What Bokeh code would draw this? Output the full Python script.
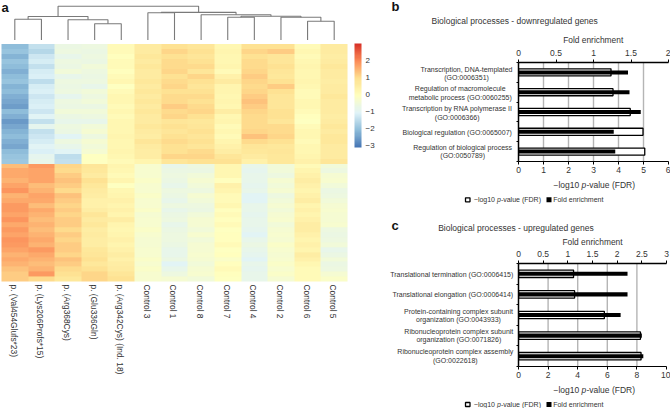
import numpy as np
from bokeh.plotting import figure
from bokeh.layouts import column, row
from bokeh.models import (Range1d, LinearColorMapper, ColorBar, FixedTicker, LinearAxis,
                          Span, AllLabels)
from bokeh.embed import file_html
from bokeh.resources import INLINE

FONT = "Liberation Sans"
TXT = "#333333"

samples = ["p. (Val454Glufs*23)", "p. (Lys206Profs*15)", "p. (Arg368Cys)", "p. (Glu336Gln)",
           "p. (Arg342Cys) (Ind. 18)", "Control 3", "Control 1", "Control 8", "Control 7",
           "Control 4", "Control 2", "Control 6", "Control 5"]

top_rows = [
 [-2.1,-2.0,-2.2,-2.0,-2.1,-2.3,-2.1,-2.0,-2.2,-2.1,-2.3,-2.4,-2.5,-2.1,-2.3,-2.6,-2.4,-2.2,-2.1,-2.3,-2.4,-2.1,-2.0,-1.9],
 [-1.4,-1.6,-1.3,-1.2,-1.4,-1.2,-1.1,-1.5,-1.2,-1.1,-1.3,-1.2,-1.1,-1.3,-1.0,-1.4,-0.9,-1.4,-1.3,-1.2,-1.0,-1.1,-0.9,-0.8],
 [-0.7,-0.6,-0.8,-0.6,-0.7,-0.5,-0.8,-0.6,-0.7,-0.6,-0.9,-0.6,-0.7,-0.5,-0.7,-0.8,-0.6,-0.7,-1.0,-0.6,-0.8,-1.0,-1.5,-1.4],
 [-0.6,-0.7,-0.6,-0.7,-0.5,-0.6,-0.7,-0.6,-0.8,-0.5,-0.6,-0.5,-0.7,-0.5,-0.6,-0.8,-0.5,-0.4,-0.6,-0.4,-0.5,-0.4,-0.1,-0.1],
 [0.1,0.1,0.0,0.1,0.1,0.0,0.1,0.2,-0.1,0.1,0.2,0.2,0.1,0.2,0.1,0.2,0.2,0.2,0.3,0.2,0.2,0.3,0.2,0.1],
 [0.6,0.6,0.7,0.6,0.7,0.6,0.6,0.7,0.6,0.7,0.6,0.7,0.6,0.7,0.6,0.6,0.7,0.6,0.5,0.8,0.6,0.5,0.5,0.3],
 [0.9,1.1,0.9,1.0,1.0,1.1,0.9,1.0,1.1,0.9,1.0,1.0,1.2,1.0,1.1,0.8,0.9,0.8,0.9,1.0,0.9,0.9,1.1,0.8],
 [0.8,0.9,0.8,0.9,1.0,0.8,1.1,0.9,0.8,0.9,1.0,0.9,1.0,1.1,0.9,0.7,0.8,0.9,0.8,0.9,0.8,1.0,1.1,0.9],
 [0.2,0.3,0.2,0.2,0.3,0.1,0.4,0.6,0.3,0.3,0.2,0.3,0.2,0.5,0.2,0.3,0.1,0.2,0.1,0.3,0.4,0.5,0.8,0.9],
 [0.9,1.1,0.9,1.0,1.0,1.1,1.2,1.1,1.0,1.1,1.2,1.3,1.2,1.1,1.0,1.0,1.0,1.1,1.3,1.0,0.8,0.7,0.6,0.4],
 [0.9,1.2,0.8,0.8,0.9,0.8,0.7,0.9,1.2,0.9,0.8,0.8,0.8,0.9,0.9,0.8,1.0,1.0,1.1,0.9,0.7,0.8,0.7,0.7],
 [0.1,0.2,0.1,0.2,0.3,0.2,0.2,0.3,0.2,0.1,0.1,0.2,0.2,0.1,0.0,-0.1,0.1,0.2,0.2,0.1,0.2,0.2,0.3,0.4],
 [0.6,0.6,0.5,0.6,0.7,0.6,0.6,0.5,0.6,0.6,0.7,0.6,0.6,0.6,0.5,0.6,0.7,0.6,0.7,0.7,0.6,0.6,0.6,0.8],
]

bot_rows = [
 [1.4,1.6,1.6,1.5,1.7,1.9,1.5,1.6,1.8,1.8,1.7,1.9,1.6,1.8,1.7,1.9,1.8,1.7,1.5,1.6,1.5,1.3,1.2,1.2],
 [1.8,1.7,1.7,1.7,1.4,1.5,1.7,1.6,1.4,1.6,1.5,1.4,1.5,1.4,1.5,1.6,1.5,1.8,1.6,1.5,1.4,1.5,1.8,1.0],
 [1.1,1.0,1.2,1.3,1.2,1.0,1.3,1.2,1.1,1.2,1.1,1.2,1.2,1.0,1.2,1.1,1.2,1.2,1.1,1.3,1.2,1.0,0.9,0.7],
 [0.8,0.7,0.6,0.9,0.7,0.6,0.5,0.4,0.4,0.5,0.8,0.6,0.7,0.5,0.6,0.5,0.5,0.7,0.8,0.9,0.7,0.9,1.1,1.1],
 [0.3,0.2,0.1,0.3,-0.1,0.2,0.3,0.4,0.3,0.4,0.3,0.5,0.3,0.2,0.3,0.4,0.3,0.4,0.5,0.4,0.5,0.6,0.8,0.9],
 [-0.3,-0.3,-0.3,-0.2,-0.3,-0.3,-0.2,-0.3,-0.3,-0.2,-0.4,-0.3,-0.3,-0.2,-0.3,-0.4,-0.4,-0.3,-0.3,-0.2,-0.3,-0.2,-0.3,-0.3],
 [-0.8,-0.7,-0.6,-0.7,-0.8,-0.6,-0.7,-0.8,-0.6,-0.8,-0.7,-0.6,-0.8,-0.7,-0.6,-0.6,-0.7,-0.8,-0.8,-0.7,-1.0,-0.8,-0.6,-0.4],
 [-0.6,-0.7,-0.5,-0.4,-0.5,-0.6,-0.4,-0.5,-0.6,-0.7,-0.5,-0.4,-0.4,-0.5,-0.3,-0.5,-0.4,-0.4,-0.3,-0.4,-0.5,-0.4,-0.3,-0.5],
 [0.2,0.2,0.2,0.0,0.4,0.3,0.1,0.1,0.2,0.0,0.1,0.0,0.1,-0.1,0.0,0.0,0.1,-0.1,0.0,-0.2,0.0,0.1,0.0,-0.1],
 [-0.8,-0.9,-0.8,-0.8,-0.9,-0.8,-1.0,-1.0,-0.8,-0.8,-0.9,-0.8,-0.8,-0.9,-1.0,-0.8,-0.7,-0.8,-0.9,-1.0,-0.8,-0.9,-0.8,-0.8],
 [-0.5,-0.5,-0.6,-0.4,-0.5,-0.4,-0.6,-0.5,-0.4,-0.5,-0.4,-0.3,-0.5,-0.4,-0.3,-0.4,-0.2,-0.3,-0.4,-0.3,-0.2,-0.3,-0.2,-0.4],
 [0.1,0.3,0.4,0.5,0.4,0.3,0.4,0.5,0.3,0.4,0.3,0.4,0.5,0.5,0.4,0.3,0.4,0.3,0.5,0.4,0.2,0.1,0.1,0.1],
 [-0.5,-0.6,-0.4,-0.3,-0.5,-0.7,-0.6,-0.5,-0.4,-0.3,-0.4,-0.4,-0.3,-0.6,-0.7,-0.6,-0.5,-0.8,-0.7,-0.5,-0.7,-0.6,-0.4,-0.2],
]

# colour bar ticks
bar_ticks = [2, 1, 0, -1, -2, -3]
low_value, high_value = -3.1, 3.0
anchor_colors = ["#4575B4", "#91BFDB", "#E0F3F8", "#FFFFBF", "#FEE090", "#FC8D59", "#D73027"]

# dendrogram: leaves are 1..13; merges given as (left, right, height)
merges = [
 (1, 2, 20.8), (4, 5, 16.2), (3, "b", 20.2), ("a", "c", 23.5),
 (6, 7, 27.2), (9, 10, 22.8), (12, 13, 18.8), (11, "g", 22.8), ("f", "h", 23.8),
 (8, "i", 25.2), ("e", "j", 27.6), ("d", "k", 33.8),
]
merge_names = "abcdefghijkl"

# panel b
b_terms = ["Transcription, DNA-templated\n(GO:0006351)",
           "Regulation of macromolecule\nmetabolic process (GO:0060255)",
           "Transcription by RNA polymerase II\n(GO:0006366)",
           "Biological regulation (GO:0065007)",
           "Regulation of biological process\n(GO:0050789)"]
b_fdr = [3.7, 3.78, 4.47, 4.98, 5.05]
b_fold = [1.46, 1.48, 1.63, 1.27, 1.29]
b_bottom_ticks = [0, 1, 2, 3, 4, 5, 6]
b_top_ticks = [0, 0.5, 1, 1.5, 2]

# panel c
c_terms = ["Translational termination (GO:0006415)",
           "Translational elongation (GO:0006414)",
           "Protein-containing complex subunit\norganization (GO:0043933)",
           "Ribonucleoprotein complex subunit\norganization (GO:0071826)",
           "Ribonucleoprotein complex assembly\n(GO:0022618)"]
c_fdr = [3.72, 3.79, 5.8, 8.24, 8.28]
c_fold = [2.21, 2.21, 2.07, 2.5, 2.53]
c_bottom_ticks = [0, 2, 4, 6, 8, 10]
c_top_ticks = [0, 0.5, 1, 1.5, 2, 2.5, 3]

# where the term labels sit on the page (centre x, centre y)
b_term_pos = [(466, 73.2), (459.7, 92.5), (456.7, 112.7), (456.7, 132), (462.2, 150.8)]
c_term_pos = [(451.3, 274), (452.3, 294.3), (458, 315), (458.3, 335), (454.8, 355.3)]


def interp_palette(cols, n=100):
    rgb = np.array([[int(c[i:i + 2], 16) for i in (1, 3, 5)] for c in cols], float)
    pos = np.linspace(0, 1, len(cols))
    t = np.linspace(0, 1, n)
    out = np.stack([np.interp(t, pos, rgb[:, k]) for k in range(3)], axis=1).round().astype(int)
    return ["#%02x%02x%02x" % tuple(v) for v in out]


# ---------- page figure, holds panel a and all free text ----------
W, H = 670, 408
CW = 346 / 13
RH = 5.0
HEAT_BOTTOM = 281
a = figure(width=W, height=H, output_backend="svg", toolbar_location=None,
           x_range=Range1d(-1 / CW, (W - 1) / CW), y_range=Range1d(-(H - HEAT_BOTTOM) / RH, HEAT_BOTTOM / RH),
           x_axis_location=None, y_axis_location=None, min_border=0, outline_line_color=None)
a.grid.visible = False
a.extra_x_ranges["px"] = Range1d(0, W)
a.extra_y_ranges["py"] = Range1d(H, 0)


def add_text(x, y, text, size=8, style="normal", color=TXT, align="left", baseline="middle"):
    a.text(x=[x], y=[y], text=[text], x_range_name="px", y_range_name="py",
           text_font={"value": FONT}, text_font_size=f"{size}px", text_font_style=style,
           text_color=color, text_align=align, text_baseline=baseline)


def add_box(x0, x1, y0, y1, fill, line):
    a.quad(left=[x0], right=[x1], top=[y0], bottom=[y1], x_range_name="px", y_range_name="py",
           fill_color=fill, line_color=line, line_width=1.3)


mapper = LinearColorMapper(palette=interp_palette(anchor_colors), low=low_value, high=high_value)
top_arr = np.array(top_rows, float).T[::-1]
bot_arr = np.array(bot_rows, float).T[::-1]
a.image(image=[bot_arr], x=0, y=0, dw=13, dh=23.5, color_mapper=mapper)
a.image(image=[top_arr], x=0, y=23.5, dw=13, dh=24, color_mapper=mapper)

a.extra_y_ranges["dend"] = Range1d(39.5 - H, 39.5)
nodes = {i: (i - 0.5, 0.0) for i in range(1, 14)}
xs, ys = [], []
for name, (l, r, h) in zip(merge_names, merges):
    xl, hl = nodes[l]
    xr, hr = nodes[r]
    xs.append([xl, xl, xr, xr])
    ys.append([hl, h, h, hr])
    nodes[name] = ((xl + xr) / 2, h)
a.multi_line(xs, ys, y_range_name="dend", line_color="#7a7a7a", line_width=1.1)

a.text(x=[i + 0.46 for i in range(13)], y=[-0.6] * 13, text=samples, angle=-np.pi / 2,
       text_font_size="8.4px", text_color=TXT, text_align="left", text_baseline="middle",
       text_font={"value": FONT})

cb = ColorBar(color_mapper=mapper, ticker=FixedTicker(ticks=bar_ticks),
              major_label_overrides={t: str(t).replace("-", "\u2212") for t in bar_ticks},
              major_label_policy=AllLabels(),
              width=7, height=104, location=(354, H - 147), padding=0, margin=0,
              major_tick_line_color=None, minor_tick_line_color=None, bar_line_color=None,
              major_label_text_font=FONT, major_label_text_font_size="8px",
              major_label_text_color=TXT, label_standoff=4, background_fill_color=None,
              border_line_color=None)
a.add_layout(cb, "center")
add_text(1, 7, "a", size=13, style="bold", color="#111111")


# ---------- panels b and c ----------
def panel(height, left, right, top, bottom, fdr, fold, bottom_ticks, top_ticks):
    p = figure(width=285, height=height, output_backend="svg", toolbar_location=None,
               x_range=Range1d(0, bottom_ticks[-1]), y_range=Range1d(5, 0),
               x_axis_location=None, y_axis_location=None,
               min_border_left=left, min_border_right=right, min_border_top=top, min_border_bottom=bottom,
               outline_line_color=None, background_fill_color=None, border_fill_color=None)
    p.extra_x_ranges["fold"] = Range1d(0, top_ticks[-1])
    axis_kw = dict(major_label_text_font=FONT, major_label_text_color=TXT,
                   axis_line_color="black", major_tick_line_color="black",
                   minor_tick_line_color=None, major_label_text_font_size="8.5px",
                   major_tick_line_width=1, major_tick_out=3, major_tick_in=0)
    p.add_layout(LinearAxis(ticker=FixedTicker(ticks=bottom_ticks), axis_line_width=1.2,
                            major_label_standoff=2, **axis_kw), "below")
    p.add_layout(LinearAxis(x_range_name="fold", ticker=FixedTicker(ticks=top_ticks), axis_line_width=1.5,
                            major_label_standoff=4, **axis_kw), "above")
    centers = [i + 0.5 for i in range(5)]
    p.add_layout(LinearAxis(ticker=FixedTicker(ticks=[], minor_ticks=list(range(6))),
                            major_label_text_font_size="0px", axis_line_color="black", axis_line_width=1.5,
                            major_tick_line_color=None, minor_tick_line_color="black", minor_tick_out=2,
                            minor_tick_in=0), "left")
    p.ygrid.visible = False
    p.xgrid.visible = False
    for t in bottom_ticks[1:-1]:
        p.add_layout(Span(location=t, dimension="height", line_color="#b5b5b5", line_width=1.4, level="underlay"))
    p.hbar(y=centers, right=fdr, left=0, height=0.36, fill_color="white", line_color="black", line_width=1.3)
    p.hbar(y=centers, right=fold, left=0, height=0.2, fill_color="black", line_color="black", line_width=0,
           x_range_name="fold")
    return p


def decorate(letter, letter_y, title, title_x, title_y, fold_x, fold_y, label_y, legend_y, terms, term_pos):
    add_text(391, letter_y, letter, size=13, style="bold", color="#111111")
    add_text(title_x, title_y, title, size=8.5)
    add_text(fold_x, fold_y, "Fold enrichment", size=8.4, align="center")
    add_text(553, label_y, "\u2212log10", size=8.5)
    add_text(581, label_y, "p", size=8.5, style="italic")
    add_text(585.9, label_y, "-value (FDR)", size=8.5)
    add_box(465, 469.5, legend_y - 2, legend_y + 2, "white", "black")
    add_text(473.3, legend_y, "\u2212log10", size=7)
    add_text(496.5, legend_y, "p", size=7, style="italic")
    add_text(500.4, legend_y, "-value (FDR)", size=7)
    add_box(546, 551, legend_y - 2.5, legend_y + 2.5, "black", None)
    add_text(552.7, legend_y, "Fold enrichment", size=7)
    for term, (cx, cy) in zip(terms, term_pos):
        lines = term.split("\n")
        for i, line in enumerate(lines):
            add_text(cx, cy + (i - (len(lines) - 1) / 2) * 8.5, line, size=7, align="center")


decorate("b", 6, "Biological processes - downregulated genes", 431, 20, 592.7, 39.3, 184, 199.3, b_terms, b_term_pos)
decorate("c", 225, "Biological processes - upregulated genes", 437.7, 227, 592, 241, 389.3, 404, c_terms, c_term_pos)

b = panel(205, 133, 2, 62, 44, b_fdr, b_fold, b_bottom_ticks, b_top_ticks)
c = panel(203, 133, 4, 58, 42, c_fdr, c_fold, c_bottom_ticks, c_top_ticks)

layout = column(a, row(b, margin=(-408, 0, 0, 385)), row(c, margin=(0, 0, 0, 385)), spacing=0)
open("out.html", "w").write(file_html(layout, INLINE))
